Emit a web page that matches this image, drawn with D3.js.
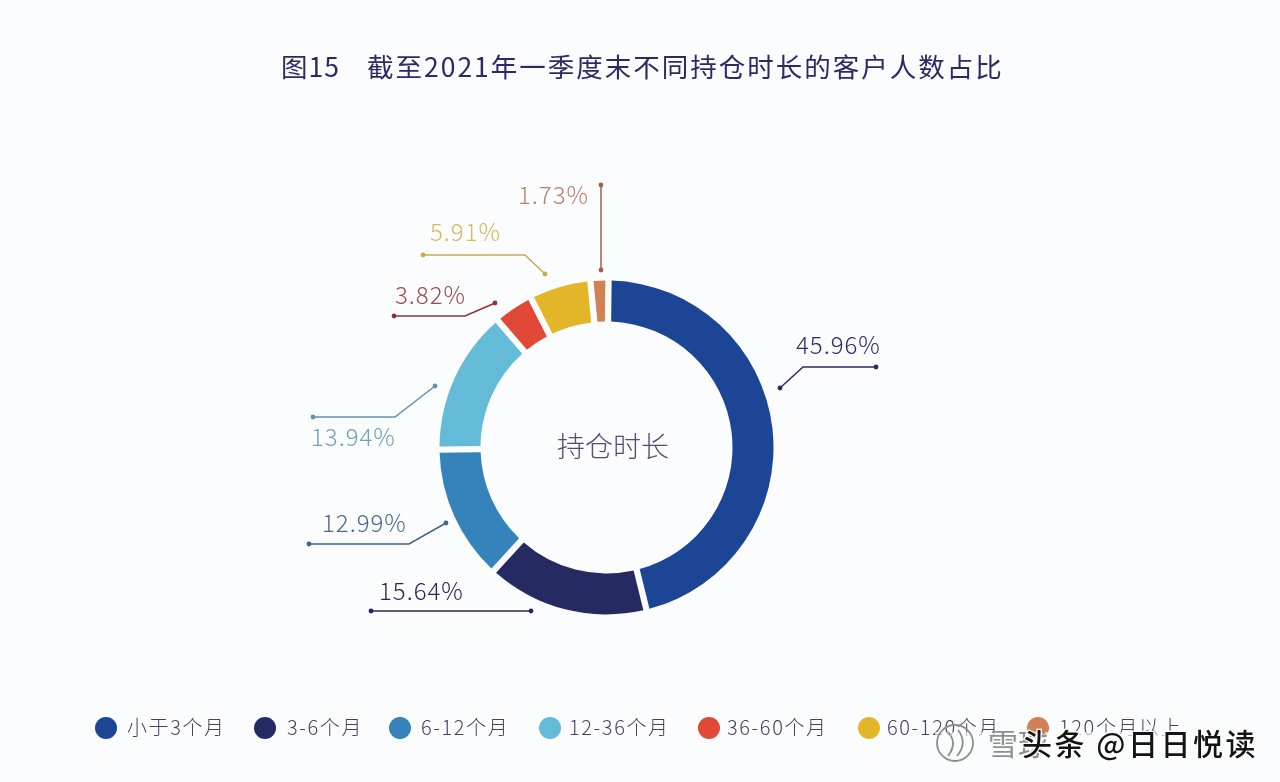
<!DOCTYPE html>
<html>
<head>
<meta charset="utf-8">
<script src="https://cdn.jsdelivr.net/npm/d3@7"></script>
<style>
	html, body { margin: 0; padding: 0; background: #fbfcfe; }
	svg { display: block; }
	text { font-family: "Noto Sans CJK SC", "Noto Sans", sans-serif; }
</style>
</head>
<body>
<script>
const categories = ["小于3个月", "3-6个月", "6-12个月", "12-36个月", "36-60个月", "60-120个月", "120个月以上"];
const shares = [45.96, 15.64, 12.99, 13.94, 3.82, 5.91, 1.73];
const colors = ["#1c4595", "#262c64", "#3483bb", "#63bbd8", "#e04a36", "#e3b62c", "#d18152"];
const labelColors = ["#2b2a68", "#2b2458", "#4a6a96", "#6f9fbb", "#9c4a50", "#d8b75a", "#b9806a"];
const lineColors = ["#2b2a68", "#2b2458", "#3f6490", "#5f93ad", "#8e3140", "#c9a854", "#a5604c"];

const width = 1280;
const height = 782;
const cx = 606.5;
const cy = 447.5;
const outerR = 167;
const innerR = 126;

const svg = d3.select("body").append("svg")
	.attr("width", width)
	.attr("height", height);

// leggera sfocatura, il riferimento e' uno screenshot ricompresso
const defs = svg.append("defs");
defs.append("filter").attr("id", "soft")
	.append("feGaussianBlur").attr("stdDeviation", 0.55);

svg.append("rect").attr("width", width).attr("height", height).attr("fill", "#fbfcfe");

const chart = svg.append("g").attr("filter", "url(#soft)");

// Titolo, in due pezzi per tenere lo stacco dopo il numero della figura
chart.append("text")
	.attr("x", 281)
	.attr("y", 77)
	.attr("font-size", 26.5)
	.attr("letter-spacing", 1)
	.attr("fill", "#2c2a66")
	.text("图15");
chart.append("text")
	.attr("x", 367)
	.attr("y", 77)
	.attr("font-size", 26.5)
	.attr("letter-spacing", 2)
	.attr("fill", "#2c2a66")
	.text("截至2021年一季度末不同持仓时长的客户人数占比");

const pie = d3.pie().sort(null).value(d => d).startAngle(0.012).endAngle(2 * Math.PI + 0.012);
const arcs = pie(shares);
const arc = d3.arc().innerRadius(innerR).outerRadius(outerR).padAngle(0.03);

const ring = chart.append("g").attr("transform", `translate(${cx},${cy})`);
ring.selectAll("path")
	.data(arcs)
	.join("path")
	.attr("d", arc)
	.attr("fill", (d, i) => colors[i]);

chart.append("text")
	.attr("x", 613)
	.attr("y", 457)
	.attr("text-anchor", "middle")
	.attr("font-size", 28)
	.attr("font-weight", 300)
	.attr("fill", "#5b4a72")
	.text("持仓时长");

// Etichette: punti della linea di richiamo e posizione del testo
const leaders = [
	{ pts: [[780, 388], [803, 367], [876, 367]], tx: 796, ty: 354 },
	{ pts: [[531, 611], [371, 611]], tx: 379, ty: 600 },
	{ pts: [[446, 523], [409, 544], [309, 544]], tx: 322, ty: 532 },
	{ pts: [[435, 386], [395, 417], [313, 417]], tx: 311, ty: 446 },
	{ pts: [[495, 303], [465, 316], [394, 316]], tx: 395, ty: 304 },
	{ pts: [[545, 274], [525, 255], [423, 255]], tx: 430, ty: 241 },
	{ pts: [[601, 270], [601, 185]], tx: 518, ty: 204 }
];

const line = d3.line();
leaders.forEach((l, i) => {
	chart.append("path")
		.attr("d", line(l.pts))
		.attr("fill", "none")
		.attr("stroke", lineColors[i])
		.attr("stroke-width", 1.5);
	[l.pts[0], l.pts[l.pts.length - 1]].forEach(p => {
		chart.append("circle")
			.attr("cx", p[0])
			.attr("cy", p[1])
			.attr("r", 2.4)
			.attr("fill", lineColors[i]);
	});
	chart.append("text")
		.attr("x", l.tx)
		.attr("y", l.ty)
		.attr("font-size", 24)
		.attr("font-weight", 300)
		.attr("letter-spacing", 1)
		.attr("fill", labelColors[i])
		.text(shares[i].toFixed(2) + "%");
});

// Legenda
const legendDot = [106, 265, 400, 550, 709, 869, 1038];
const legendText = [127, 287, 421, 569, 727, 887, 1059];
categories.forEach((c, i) => {
	chart.append("circle")
		.attr("cx", legendDot[i])
		.attr("cy", 728)
		.attr("r", 11)
		.attr("fill", colors[i]);
	chart.append("text")
		.attr("x", legendText[i])
		.attr("y", 735)
		.attr("font-size", 20)
		.attr("font-weight", 300)
		.attr("letter-spacing", 1.6)
		.attr("fill", "#463f62")
		.text(c);
});

// Filigrana in basso a destra
const mark = svg.append("g");
mark.append("rect").attr("x", 935).attr("y", 732).attr("width", 330).attr("height", 42).attr("fill", "#fbfcfe").attr("opacity", 0.6);
mark.append("circle").attr("cx", 955).attr("cy", 743).attr("r", 18)
	.attr("fill", "none").attr("stroke", "#8d8d8d").attr("stroke-width", 1.8);
mark.append("path").attr("d", "M948 732 Q958 743 948 756 M958 730 Q968 743 957 756")
	.attr("fill", "none").attr("stroke", "#8d8d8d").attr("stroke-width", 1.8);
mark.append("text").attr("x", 988).attr("y", 755).attr("font-size", 30)
	.attr("fill", "#8f8f8f").text("雪球");
mark.append("text").attr("x", 1022).attr("y", 755).attr("font-size", 30)
	.attr("letter-spacing", 2.5)
	.attr("font-weight", 500)
	.attr("fill", "#141414").attr("stroke", "#ffffff").attr("stroke-width", 2.5)
	.attr("paint-order", "stroke")
	.text("头条 @日日悦读");
</script>
</body>
</html>
